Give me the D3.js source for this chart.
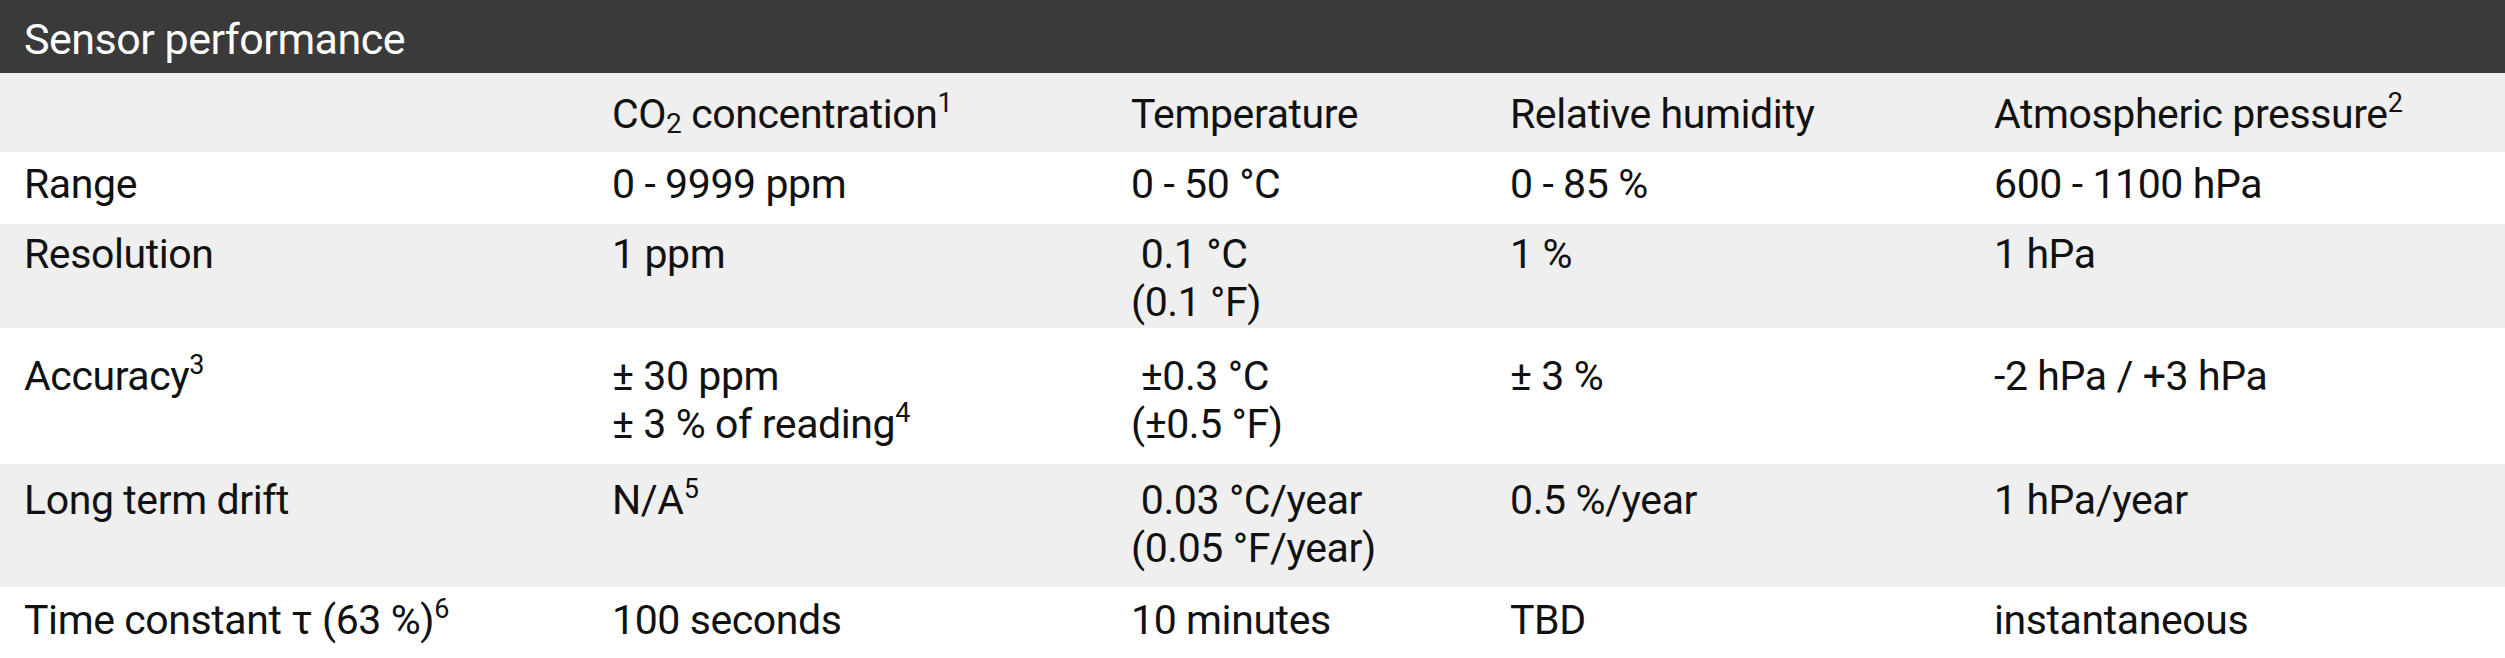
<!DOCTYPE html>
<html><head><meta charset="utf-8">
<script src="https://cdn.jsdelivr.net/npm/d3@7"></script>
<style>body{margin:0;background:#fff}</style>
</head><body><div id="chart"></div>
<script>
var title = "Sensor performance";
var columns = ["", "CO2 concentration^1", "Temperature", "Relative humidity", "Atmospheric pressure^2"];
var rowLabels = ["Range", "Resolution", "Accuracy^3", "Long term drift", "Time constant τ (63 %)^6"];
var co2Values = [["0 - 9999 ppm"], ["1 ppm"], ["± 30 ppm", "± 3 % of reading^4"], ["N/A^5"], ["100 seconds"]];
var tempValues = [["0 - 50 °C"], [" 0.1 °C", "(0.1 °F)"], [" ±0.3 °C", "(±0.5 °F)"], [" 0.03 °C/year", "(0.05 °F/year)"], ["10 minutes"]];
var humValues = [["0 - 85 %"], ["1 %"], ["± 3 %"], ["0.5 %/year"], ["TBD"]];
var presValues = [["600 - 1100 hPa"], ["1 hPa"], ["-2 hPa / +3 hPa"], ["1 hPa/year"], ["instantaneous"]];

var W = 2505, H = 658;
var colX = [24, 612, 1131, 1510, 1994];
var rowTops = [73, 152, 224, 328, 464, 587, 658];
var font = "Roboto, 'Liberation Sans', sans-serif";

var svg = d3.select("#chart").append("svg").attr("width", W).attr("height", H)
  .style("font-family", font);

svg.append("rect").attr("width", W).attr("height", 73).attr("fill", "#3a3a3a");
svg.append("text").attr("x", 24).attr("y", 54).attr("fill", "#fff").attr("font-size", 43)
  .attr("letter-spacing", -0.5).text(title);

rowTops.slice(0, -1).forEach(function(t, i) {
  svg.append("rect").attr("x", 0).attr("y", t).attr("width", W).attr("height", rowTops[i + 1] - t)
    .attr("fill", i % 2 === 0 ? "#efefef" : "#fff");
});

function cell(x, y, lines) {
  lines.forEach(function(line, k) {
    var t = svg.append("text").attr("x", x).attr("y", y + k * 48).attr("font-size", 41)
      .attr("letter-spacing", -0.4).attr("fill", "#111").attr("xml:space", "preserve");
    var parts = line.split("^");
    var main = parts[0];
    if (main.indexOf("CO2") === 0) {
      t.append("tspan").text("CO");
      t.append("tspan").attr("font-size", 28).attr("dy", 5).text("2");
      t.append("tspan").attr("dy", -5).text(main.slice(3));
    } else {
      t.append("tspan").text(main);
    }
    if (parts[1]) t.append("tspan").attr("font-size", 27).attr("dy", -16).text(parts[1]);
  });
}

var baseY = [128, 198, 268, 390, 514, 634];
columns.forEach(function(c, j) { if (c) cell(colX[j], baseY[0], [c]); });
var data = [rowLabels.map(function(d) { return [d]; }), co2Values, tempValues, humValues, presValues];
data.forEach(function(col, j) {
  col.forEach(function(lines, i) { cell(colX[j], baseY[i + 1], lines); });
});
</script></body></html>
